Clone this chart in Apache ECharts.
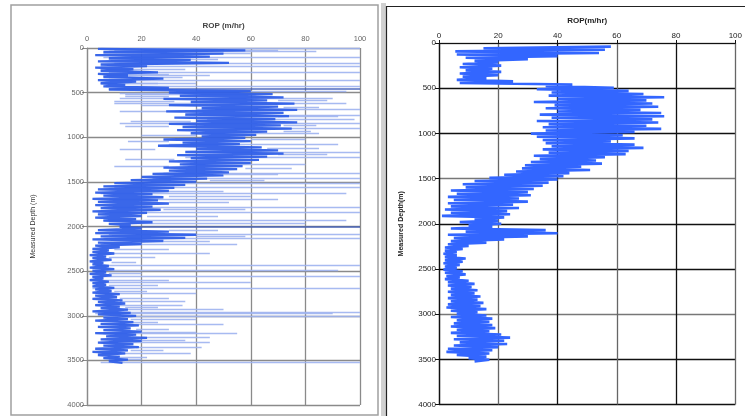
<!DOCTYPE html>
<html><head><meta charset="utf-8">
<script src="https://cdn.jsdelivr.net/npm/echarts/dist/echarts.min.js"></script>
<style>html,body{margin:0;padding:0;background:#fff}#c{width:745px;height:416px}</style>
</head><body><div id="c"></div>
<script>
// ---- titles ----
const xTitleLeft = 'ROP (m/hr)';
const xTitleRight = 'ROP(m/hr)';
const yTitleLeft = 'Measured Depth (m)';
const yTitleRight = 'Measured Depth(m)';

// ---- left panel: raw ROP log (sampled every 17.5 m starting at 10 m) ----
const leftDepthStart = 10, leftDepthStep = 17.5;
const leftRop = [4,58,6,50,3,45,8,38,4,52,5,22,3,17,5,26,4,15,6,28,4,18,5,14,6,30,8,60,30,68,
34,72,28,66,38,76,30,70,42,77,29,72,36,74,32,69,40,77,30,71,35,75,33,66,38,62,42,58,28,60,
35,56,26,64,40,70,36,72,33,66,38,63,30,60,34,57,28,55,30,52,24,50,20,44,16,40,10,36,6,32,
4,30,3,24,6,28,2,26,4,30,3,24,5,27,2,22,4,20,3,18,6,24,8,16,12,20,4,30,3,40,
5,36,2,28,4,20,3,12,2,8,2,10,1,7,2,9,1,6,2,8,1,10,2,7,1,9,2,6,1,8,
2,7,2,10,3,9,2,12,3,11,2,13,4,14,3,12,5,15,2,16,4,18,6,15,3,17,5,19,4,16,
6,20,3,18,7,22,5,20,4,17,6,19,3,15,2,14,4,12,6,15,8,13];

// left panel: isolated high readings (depth, from ROP, to ROP)
const spikeDepth = [0,40,100,170,210,270,310,330,360,390,430,520,560,620,690,750,800,840,900,950,1080,1165,1220,1300,1400,1460,1510,1560,1625,1700,1780,1840,1925,1960,2090,2130,2200,2300,2430,2490,2560,2620,2690,2750,2880,2960,2970,3010,3100,3200,3300,3420,3520,
  20,60,130,240,290,400,490,510,540,580,600,640,660,710,770,820,860,880,930,980,1020,1050,1120,1140,1190,1250,1330,1350,1420,1480,1600,1660,1730,1810,1880,2040,2110,2160,2250,2350,2400,2520,2600,2660,2720,2800,2840,2900,2930,3040,3070,3150,3180,3240,3280,3350,3390,3460,3490];
const spikeFrom  = [5,8,6,10,5,8,6,8,5,6,7,14,12,10,40,36,44,12,40,42,30,40,36,35,28,24,18,10,5,8,6,4,6,8,8,6,5,4,3,3,2,3,2,4,3,4,3,6,5,6,5,4,5,
  10,6,8,5,6,5,40,12,14,70,10,20,72,12,70,16,72,14,72,20,60,15,66,12,70,14,10,58,50,45,30,30,30,28,22,30,40,28,10,8,9,8,6,8,10,12,12,14,14,16,15,18,18,20,18,18,16,10,8];
const spikeTo    = [100,84,100,100,100,100,45,35,100,40,100,62,90,95,100,100,98,100,100,85,92,100,100,80,100,100,100,100,95,70,100,100,95,80,100,100,55,45,100,92,100,60,100,40,35,100,90,100,50,55,45,38,100,
  70,60,48,36,30,26,95,40,30,88,32,40,85,35,92,38,84,30,82,40,80,30,85,25,88,32,30,75,70,65,50,60,52,58,48,48,58,45,30,25,18,20,30,26,22,30,36,26,50,40,26,30,40,45,36,42,28,22,20];

// left panel: two strong full-width readings
const heavyDepth = [455, 2005];
const heavyFrom = [8, 12];
const heavyTo = [100, 100];

// ---- right panel: smoothed ROP log (sampled every 17.5 m starting at 40 m) ----
const rightDepthStart = 40, rightDepthStep = 17.5;
const rightRop = [58,15,56,5.5,54,6,40,9,30,12,20,8,21,7,18,9,21,7,20,8,16,6,25,7,45,36,59,33,64,38,
69,37,76,40,70,32,72,39,74,36,68,40,75,34,76,38,72,33,74,37,70,35,75,36,66,31,62,33,66,35,
58,36,66,38,69,35,64,37,63,32,56,34,53,31,55,29,48,28,51,26,44,22,42,17,40,12,37,8,35,9,
32,4,30,6,31,3,27,5,30,3,25,4,27,2,23,4,24,1,22,12,20,7,21,10,18,4,36,9,40,3,
30,5,22,4,16,3,10,2,8,2,6,1.5,6,2,9,2,8,1.5,7,2,6,1.5,8,2,9,2.5,7,2,10,3,
12,3,11,4,13,3,12,4,14,3,13,4,15,3,14,2.5,16,4,13,6,16,4,18,6,17,5,18,4,19,6,
17,4,21,6,24,5,22,7,23,5,20,3,18,2.5,17,6,16,10,17,12];

const leftData = leftRop.map((v, i) => [v, leftDepthStart + i * leftDepthStep]);
const rightData = rightRop.map((v, i) => [v, rightDepthStart + i * rightDepthStep]);
const spikeData = spikeDepth.map((d, i) => ({coords: [[spikeFrom[i], d], [spikeTo[i], d]]}));
const heavyData = heavyDepth.map((d, i) => ({coords: [[heavyFrom[i], d], [heavyTo[i], d]]}));

const chart = echarts.init(document.getElementById('c'), null, {renderer: 'canvas'});
const FONT = 'Liberation Sans, Arial, sans-serif';
const plain = v => String(v);

chart.setOption({
  animation: false,
  backgroundColor: '#fff',
  graphic: [
    {type: 'rect', z: -10, shape: {x: 11, y: 5, width: 367, height: 410}, style: {fill: '#fff', stroke: '#a0a0a0', lineWidth: 1.5}},
    {type: 'rect', z: -10, shape: {x: 381, y: 3, width: 5, height: 413}, style: {fill: '#d0d0d0', stroke: null}},
    {type: 'rect', z: -10, shape: {x: 386.5, y: 6.5, width: 370, height: 420}, style: {fill: '#fff', stroke: '#222', lineWidth: 1.2}}
  ],
  grid: [
    {left: 87, right: 385, top: 48, bottom: 11},
    {left: 439, right: 4, top: 43, bottom: 11.5}
  ],
  xAxis: [
    {gridIndex: 0, type: 'value', position: 'top', min: 0, max: 100, interval: 20,
     name: xTitleLeft, nameLocation: 'middle', nameGap: 18,
     nameTextStyle: {fontFamily: FONT, fontSize: 8, fontWeight: 'bold', color: '#444'},
     axisLine: {show: true, lineStyle: {color: '#8a8a8a', width: 1.2}},
     axisTick: {show: false},
     axisLabel: {fontFamily: FONT, fontSize: 7.5, color: '#666', margin: 5, formatter: plain},
     splitLine: {show: true, lineStyle: {color: '#8a8a8a', width: 1.3}}},
    {gridIndex: 1, type: 'value', position: 'top', min: 0, max: 100, interval: 20,
     name: xTitleRight, nameLocation: 'middle', nameGap: 18,
     nameTextStyle: {fontFamily: FONT, fontSize: 8, fontWeight: 'bold', color: '#222'},
     axisLine: {show: true, lineStyle: {color: '#111', width: 1.2}},
     axisTick: {show: true, length: 3, lineStyle: {color: '#111'}},
     axisLabel: {fontFamily: FONT, fontSize: 8, color: '#222', margin: 3, formatter: plain},
     splitLine: {show: true, lineStyle: {color: ['#111', '#666'], width: 1.3}}}
  ],
  yAxis: [
    {gridIndex: 0, type: 'value', inverse: true, min: 0, max: 4000, interval: 500,
     name: yTitleLeft, nameLocation: 'middle', nameGap: 50, nameRotate: 90,
     nameTextStyle: {fontFamily: FONT, fontSize: 7, color: '#333'},
     axisLine: {show: true, lineStyle: {color: '#8a8a8a', width: 1.2}},
     axisTick: {show: true, length: 5, lineStyle: {color: '#8a8a8a'}},
     axisLabel: {fontFamily: FONT, fontSize: 7.5, color: '#666', margin: 3, formatter: plain},
     splitLine: {show: true, lineStyle: {color: '#8a8a8a', width: 1.3}}},
    {gridIndex: 1, type: 'value', inverse: true, min: 0, max: 4000, interval: 500,
     name: yTitleRight, nameLocation: 'middle', nameGap: 34, nameRotate: 90,
     nameTextStyle: {fontFamily: FONT, fontSize: 7, fontWeight: 'bold', color: '#222'},
     axisLine: {show: true, lineStyle: {color: '#111', width: 1.2}},
     axisTick: {show: true, length: 4, lineStyle: {color: '#111'}},
     axisLabel: {fontFamily: FONT, fontSize: 8, color: '#222', margin: 3, formatter: plain},
     splitLine: {show: true, lineStyle: {color: ['#777', '#111', '#111'], width: 1.3}}}
  ],
  series: [
    {type: 'lines', coordinateSystem: 'cartesian2d', xAxisIndex: 0, yAxisIndex: 0,
     data: spikeData, silent: true,
     lineStyle: {color: '#9db2f0', width: 1.3, opacity: 0.9}},
    {type: 'lines', coordinateSystem: 'cartesian2d', xAxisIndex: 0, yAxisIndex: 0,
     data: heavyData, silent: true,
     lineStyle: {color: '#3f5cb8', width: 1.6, opacity: 0.9}},
    {type: 'line', xAxisIndex: 0, yAxisIndex: 0, data: leftData, showSymbol: false, symbol: 'none',
     silent: true, lineStyle: {color: '#2f5fe8', width: 2.3, opacity: 0.95}},
    {type: 'line', xAxisIndex: 1, yAxisIndex: 1, data: rightData, showSymbol: false, symbol: 'none',
     silent: true, lineStyle: {color: '#3366ff', width: 2.6}}
  ]
});
</script>
</body></html>
